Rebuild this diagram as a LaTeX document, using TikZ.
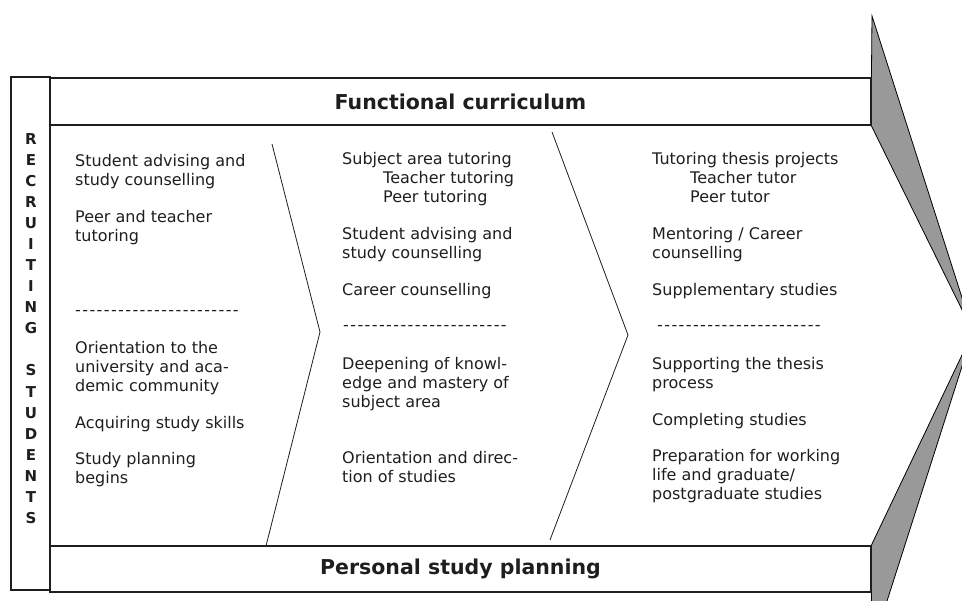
\documentclass[tikz,border=0pt]{standalone}
\usepackage{fontspec}
\setmainfont{DejaVu Sans}
\definecolor{arrowgray}{RGB}{153,153,153}
\definecolor{ink}{RGB}{30,30,30}
\newcommand\hy{\makebox[7.17pt][l]{-}}
\newcommand\dashrow{\hy\hy\hy\hy\hy\hy\hy\hy\hy\hy\hy\hy\hy\hy\hy\hy\hy\hy\hy\hy\hy\hy\hy}
\begin{document}
\begin{tikzpicture}[x=1pt,y=-1pt,
  frame/.style={draw=ink, line width=1.4pt},
  bar/.style={frame, minimum width=821pt, inner sep=0pt, font={\bfseries\fontsize{20.5}{22}\selectfont}, text=ink},
  txt/.style={anchor=north west, yshift=6pt, inner sep=0pt, align=left, font={\fontsize{16}{19}\selectfont}, text=ink, execute at begin node=\strut},
  divider/.style={draw=ink, line width=0.8pt},
  pointer/.style={fill=arrowgray, draw=black, line width=0.8pt, line join=miter}]
\useasboundingbox (0,0) rectangle (962,601);
\begin{scope}
\clip (0,0) rectangle (962,601);
\path[pointer] (872,16) -- (973,332) -- (871,125) -- cycle;
\path[pointer] (871,546) -- (973,332) -- (872,648) -- cycle;
\end{scope}
% frame
\node[frame, minimum width=39pt, minimum height=513pt, inner sep=0pt] (recbox) at (30.5,333.5) {};
\node[bar, minimum height=47pt] (fc) at (460.5,101.5) {Functional curriculum};
\node[bar, minimum height=46pt] (psp) at (460.5,569) {Personal study planning};
\node[align=center, inner sep=0pt, text=ink, font={\bfseries\fontsize{15}{21.05}\selectfont}] (rec) at (31,328.5)
  {R\\E\\C\\R\\U\\I\\T\\I\\N\\G\\[21.05pt]S\\T\\U\\D\\E\\N\\T\\S};
% dividers
\draw[divider] (272,144) -- (320,332) -- (266,546);
\draw[divider] (552,132) -- (628,335) -- (550,540);
% left column
\node[txt] (a1) at (75,160) {Student advising and\\study counselling};
\node[txt] (a2) at (75,216) {Peer and teacher\\tutoring};
\node[txt] (a3) at (75,308) {\dashrow};
\node[txt] (a4) at (75,347) {Orientation to the\\university and aca-\\demic community};
\node[txt] (a5) at (75,421) {Acquiring study skills};
\node[txt] (a6) at (75,458) {Study planning\\begins};
% middle column
\node[txt] (b1) at (342,158) {Subject area tutoring\\\hspace*{41pt}Teacher tutoring\\\hspace*{41pt}Peer tutoring};
\node[txt] (b2) at (342,233) {Student advising and\\study counselling};
\node[txt] (b3) at (342,288) {Career counselling};
\node[txt] (b4) at (343,323) {\dashrow};
\node[txt] (b5) at (342,363) {Deepening of knowl-\\edge and mastery of\\subject area};
\node[txt] (b6) at (342,457) {Orientation and direc-\\tion of studies};
% right column
\node[txt] (c1) at (652,158) {Tutoring thesis projects\\\hspace*{38pt}Teacher tutor\\\hspace*{38pt}Peer tutor};
\node[txt] (c2) at (652,233) {Mentoring / Career\\counselling};
\node[txt] (c3) at (652,288) {Supplementary studies};
\node[txt] (c4) at (657,323) {\dashrow};
\node[txt] (c5) at (652,363) {Supporting the thesis\\process};
\node[txt] (c6) at (652,418) {Completing studies};
\node[txt] (c7) at (652,455) {Preparation for working\\life and graduate/\\postgraduate studies};
\end{tikzpicture}
\end{document}
